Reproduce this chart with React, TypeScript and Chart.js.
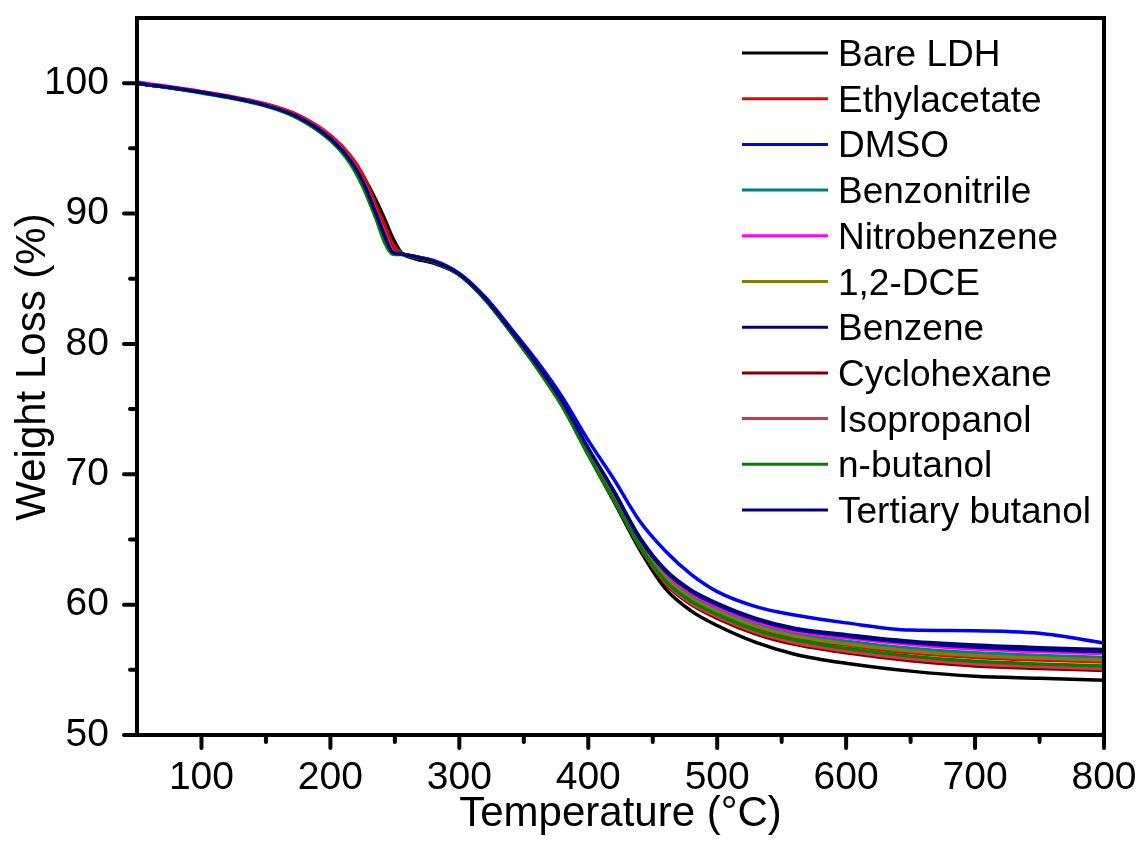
import React, { useEffect, useRef } from 'react';
import { Chart, registerables } from 'chart.js';

Chart.register(...registerables);

const temperatures = [50, 100, 150, 175, 200, 215, 225, 235, 242, 248, 255, 265, 280, 300, 320, 340, 360, 380, 400, 420, 440, 460, 480, 500, 530, 560, 600, 650, 700, 750, 800];

const bareLDH = [100, 99.3, 98.3, 97.45, 95.9, 94.4, 92.95, 91.1, 89.6, 88.2, 87.0, 86.55, 86.2, 85.3, 83.4, 80.9, 78.2, 75.2, 71.5, 67.9, 64.2, 61.2, 59.5, 58.4, 57.1, 56.2, 55.5, 54.9, 54.5, 54.35, 54.2];
const ethylacetate = [100, 99.35, 98.4, 97.55, 96.0, 94.5, 93.0, 90.7, 89.1, 87.7, 86.95, 86.7, 86.35, 85.35, 83.45, 80.95, 78.3, 75.3, 71.7, 68.2, 64.6, 61.95, 60.4, 59.4, 58.25, 57.5, 56.9, 56.3, 55.95, 55.75, 55.6];
const dmso = [100, 99.3, 98.3, 97.4, 95.8, 94.2, 92.6, 90.2, 88.4, 87.1, 86.9, 86.7, 86.4, 85.4, 83.6, 81.2, 78.7, 75.9, 72.6, 69.6, 66.4, 64.1, 62.3, 61.0, 59.85, 59.2, 58.6, 58.05, 58.0, 57.8, 57.05];
const benzonitrile = [100, 99.3, 98.3, 97.4, 95.8, 94.2, 92.6, 90.2, 88.4, 87.1, 86.9, 86.7, 86.35, 85.35, 83.5, 81.0, 78.35, 75.4, 71.8, 68.4, 64.8, 62.2, 60.65, 59.65, 58.5, 57.75, 57.2, 56.65, 56.3, 56.1, 55.95];
const nitrobenzene = [100.1, 99.35, 98.35, 97.45, 95.85, 94.25, 92.65, 90.2, 88.4, 87.1, 86.9, 86.7, 86.35, 85.35, 83.5, 81.0, 78.4, 75.45, 71.9, 68.5, 64.95, 62.4, 60.85, 59.85, 58.7, 57.95, 57.45, 56.95, 56.6, 56.4, 56.25];
const dce = [100, 99.3, 98.3, 97.4, 95.8, 94.2, 92.6, 90.2, 88.4, 87.1, 86.9, 86.7, 86.35, 85.35, 83.5, 81.0, 78.3, 75.35, 71.75, 68.3, 64.7, 62.05, 60.5, 59.5, 58.35, 57.6, 57.0, 56.45, 56.1, 55.9, 55.75];
const benzene = [100, 99.3, 98.3, 97.4, 95.8, 94.2, 92.6, 90.2, 88.4, 87.1, 86.9, 86.7, 86.35, 85.35, 83.5, 81.0, 78.4, 75.5, 71.95, 68.6, 65.05, 62.55, 61.0, 60.0, 58.85, 58.1, 57.6, 57.1, 56.75, 56.55, 56.4];
const cyclohexane = [100, 99.3, 98.3, 97.4, 95.8, 94.25, 92.7, 90.4, 88.7, 87.3, 86.9, 86.7, 86.35, 85.3, 83.45, 80.95, 78.25, 75.25, 71.6, 68.05, 64.4, 61.6, 60.0, 58.95, 57.75, 56.95, 56.3, 55.7, 55.3, 55.1, 54.95];
const isopropanol = [100, 99.3, 98.3, 97.4, 95.8, 94.25, 92.65, 90.3, 88.6, 87.2, 86.9, 86.7, 86.35, 85.3, 83.45, 80.95, 78.25, 75.25, 71.6, 68.1, 64.45, 61.7, 60.1, 59.1, 57.9, 57.1, 56.45, 55.85, 55.45, 55.25, 55.1];
const nButanol = [100, 99.25, 98.25, 97.3, 95.6, 93.9, 92.1, 89.7, 87.8, 86.9, 86.85, 86.65, 86.3, 85.3, 83.4, 80.9, 78.2, 75.2, 71.5, 68.0, 64.5, 61.8, 60.25, 59.25, 58.05, 57.3, 56.65, 56.05, 55.65, 55.45, 55.3];
const tertiaryButanol = [100, 99.3, 98.3, 97.4, 95.75, 94.15, 92.5, 90.1, 88.3, 87.05, 86.9, 86.7, 86.35, 85.35, 83.5, 81.05, 78.45, 75.55, 72.0, 68.7, 65.15, 62.65, 61.1, 60.1, 58.95, 58.2, 57.7, 57.2, 56.9, 56.7, 56.55];

const seriesLabels = ['Bare LDH', 'Ethylacetate', 'DMSO', 'Benzonitrile', 'Nitrobenzene', '1,2-DCE', 'Benzene', 'Cyclohexane', 'Isopropanol', 'n-butanol', 'Tertiary butanol'];
const seriesValues = [bareLDH, ethylacetate, dmso, benzonitrile, nitrobenzene, dce, benzene, cyclohexane, isopropanol, nButanol, tertiaryButanol];
const seriesColors = ['#000000', '#F00000', '#0000FF', '#008080', '#FF00FF', '#808000', '#000080', '#800000', '#E0304A', '#008000', '#000080'];

const xMajorTicks = [100, 200, 300, 400, 500, 600, 700, 800];
const xMinorTicks = [150, 250, 350, 450, 550, 650, 750];
const yMajorTicks = [50, 60, 70, 80, 90, 100];
const yMinorTicks = [55, 65, 75, 85, 95];

const xTitle = 'Temperature (°C)';
const yTitle = 'Weight Loss (%)';

const FONT = '"Liberation Sans", Arial, sans-serif';

const decorPlugin = {
  id: 'decor',
  afterDraw(chart: any) {
    const { ctx, chartArea: a, scales } = chart;
    const xs = scales.x;
    const ys = scales.y;
    ctx.save();
    ctx.strokeStyle = '#000';
    ctx.lineWidth = 4;
    ctx.strokeRect(a.left, a.top, a.right - a.left, a.bottom - a.top);
    ctx.lineWidth = 4;
    ctx.lineCap = 'round';
    const line = (x1: number, y1: number, x2: number, y2: number) => {
      ctx.beginPath();
      ctx.moveTo(x1, y1);
      ctx.lineTo(x2, y2);
      ctx.stroke();
    };
    xMajorTicks.forEach((v) => { const p = xs.getPixelForValue(v); line(p, a.bottom, p, a.bottom + 13); });
    xMinorTicks.forEach((v) => { const p = xs.getPixelForValue(v); line(p, a.bottom, p, a.bottom + 7); });
    yMajorTicks.forEach((v) => { const p = ys.getPixelForValue(v); line(a.left, p, a.left - 13, p); });
    yMinorTicks.forEach((v) => { const p = ys.getPixelForValue(v); line(a.left, p, a.left - 7, p); });

    // y axis title
    ctx.save();
    ctx.translate(33, 367);
    ctx.rotate(-Math.PI / 2);
    ctx.font = `42px ${FONT}`;
    ctx.fillStyle = '#000';
    ctx.textAlign = 'center';
    ctx.textBaseline = 'middle';
    ctx.fillText(yTitle, 0, 0);
    ctx.restore();

    // legend
    const lx0 = a.right - 362;
    const lx1 = a.right - 276;
    const tx = a.right - 266;
    const y0 = a.top + 35;
    const dy = 45.7;
    ctx.font = `37px ${FONT}`;
    ctx.textAlign = 'left';
    ctx.textBaseline = 'alphabetic';
    ctx.lineCap = 'butt';
    ctx.lineWidth = 3;
    seriesLabels.forEach((lab, i) => {
      const y = y0 + i * dy;
      ctx.strokeStyle = seriesColors[i];
      line(lx0, y, lx1, y);
      ctx.fillStyle = '#000';
      ctx.fillText(lab, tx, y + 13);
    });
    ctx.restore();
  },
};

export default function App() {
  const canvasRef = useRef<HTMLCanvasElement | null>(null);
  useEffect(() => {
    const canvas = canvasRef.current;
    if (!canvas) return;
    const datasets = seriesLabels.map((label, i) => ({
      label,
      data: temperatures.map((t, j) => ({ x: t, y: seriesValues[i][j] })),
      borderColor: seriesColors[i],
      backgroundColor: seriesColors[i],
      borderWidth: 3.5,
      pointRadius: 0,
      fill: false,
      cubicInterpolationMode: 'monotone' as const,
      order: seriesLabels.length - i,
    }));
    const chart = new Chart(canvas, {
      type: 'line',
      data: { datasets },
      options: {
        animation: false,
        responsive: false,
        maintainAspectRatio: false,
        layout: { padding: { top: 18, right: 42, left: 0, bottom: 0 } },
        plugins: { legend: { display: false }, tooltip: { enabled: false } },
        scales: {
          x: {
            type: 'linear',
            min: 50,
            max: 800,
            afterBuildTicks: (s: any) => { s.ticks = xMajorTicks.map((v) => ({ value: v })); },
            afterFit: (s: any) => { s.height = 120; s.paddingLeft = 0; s.paddingRight = 0; },
            grid: { display: true, drawOnChartArea: false, drawTicks: true, tickLength: 14, color: 'rgba(0,0,0,0)' },
            border: { display: false },
            ticks: { color: '#000', font: { family: FONT, size: 39 }, padding: 6, maxRotation: 0, autoSkip: false },
            title: { display: true, text: xTitle, color: '#000', font: { family: FONT, size: 42 }, padding: { top: 0, bottom: 15 } },
          },
          y: {
            type: 'linear',
            min: 50,
            max: 105,
            afterBuildTicks: (s: any) => { s.ticks = yMajorTicks.map((v) => ({ value: v })); },
            afterFit: (s: any) => { s.width = 137; s.paddingTop = 0; s.paddingBottom = 0; },
            grid: { display: true, drawOnChartArea: false, drawTicks: true, tickLength: 14, color: 'rgba(0,0,0,0)' },
            border: { display: false },
            ticks: { color: '#000', font: { family: FONT, size: 39 }, padding: 14 },
            title: { display: false },
          },
        },
      },
      plugins: [decorPlugin],
    });
    return () => chart.destroy();
  }, []);
  return (
    <div style={{ position: 'absolute', left: 0, top: 0, width: 1146, height: 855, background: '#fff' }}>
      <canvas ref={canvasRef} width={1146} height={855} />
    </div>
  );
}
